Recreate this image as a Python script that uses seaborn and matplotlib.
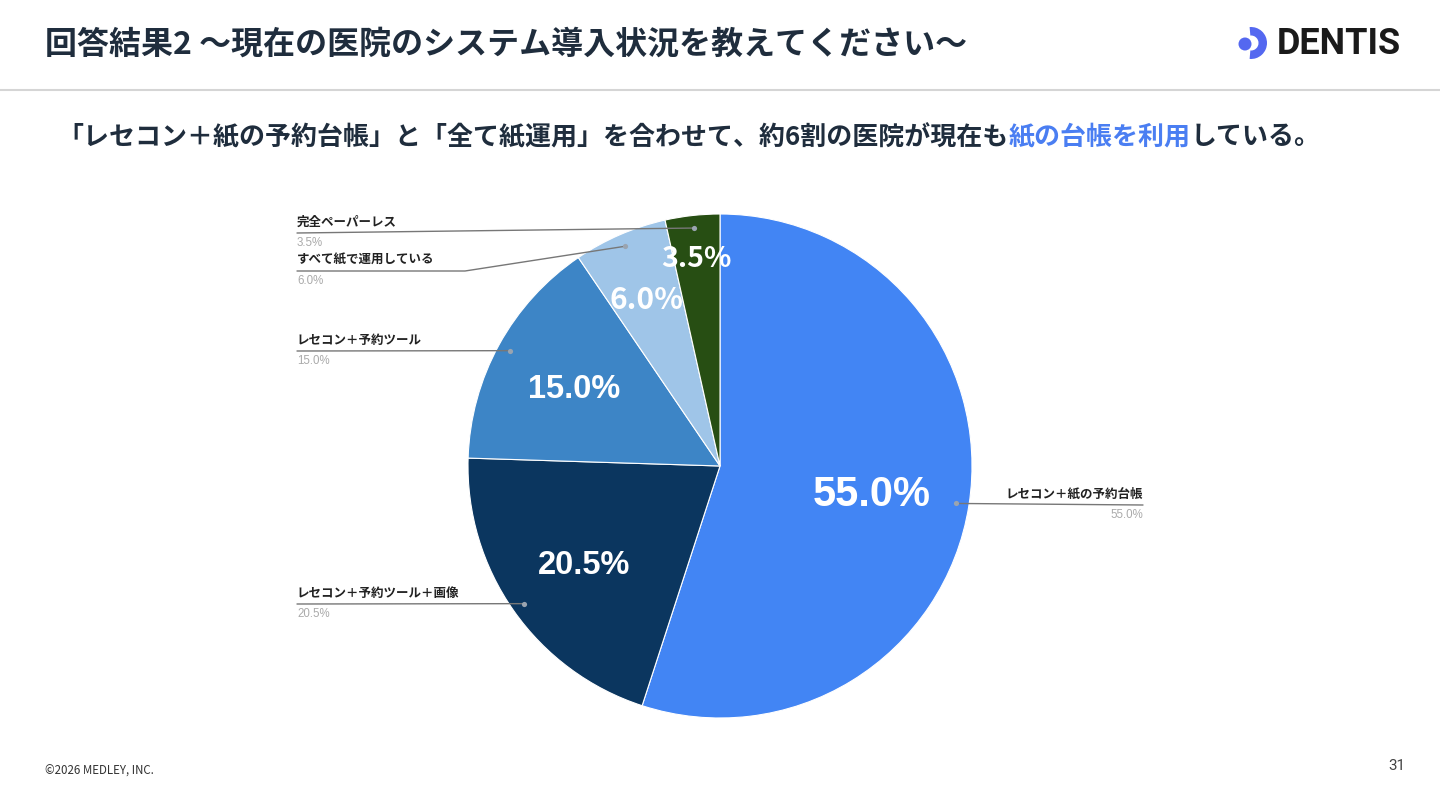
import matplotlib
matplotlib.use('Agg')
import matplotlib.pyplot as plt
import seaborn as sns
from matplotlib.patches import Wedge, Circle
import numpy as np

# --- data ---
categories = ['レセコン＋紙の予約台帳', 'レセコン＋予約ツール＋画像', 'レセコン＋予約ツール',
              'すべて紙で運用している', '完全ペーパーレス']
shares = [55.0, 20.5, 15.0, 6.0, 3.5]
slice_colors = ['#4285f4', '#0b365f', '#3d85c6', '#9fc5e8', '#274e13']

title = '回答結果2 〜現在の医院のシステム導入状況を教えてください〜'
sub_parts = ['「レセコン＋紙の予約台帳」と「全て紙運用」を合わせて、約6割の医院が現在も',
             '紙の台帳を利用', 'している。']

# layout (pixels, y measured from top)
W, H = 1440, 810
CX, CY, R = 720, 466, 252
inner_dist = [0.61, 0.66, 0.66, 0.73, 0.84]
inner_size = [30, 23.5, 23.5, 21.5, 20.5]
inner_font = ['Liberation Sans', 'Liberation Sans', 'Liberation Sans',
              'Noto Sans CJK JP', 'Noto Sans CJK JP']
label_y = [505, 604, 351, 271, 233]
label_x = [1143, 297, 297, 297, 297]
knee_x = [None, None, None, 465, None]

sns.set_theme(style='white')
plt.rcParams['font.family'] = ['Noto Sans CJK JP', 'DejaVu Sans']


def Y(y):
    return H - y


fig = plt.figure(figsize=(14.4, 8.1), dpi=100)
ax = fig.add_axes([0, 0, 1, 1])

wedges, _ = ax.pie(shares, colors=slice_colors, startangle=90, counterclock=False,
                   center=(CX, Y(CY)), radius=R,
                   wedgeprops=dict(edgecolor='white', linewidth=0.8))
ax.set_xlim(0, W)
ax.set_ylim(0, H)
ax.set_aspect('equal')
ax.axis('off')

for i, w in enumerate(wedges):
    mid = np.deg2rad((w.theta1 + w.theta2) / 2)
    # inner percentage
    tx = CX + inner_dist[i] * R * np.cos(mid)
    ty = Y(CY) + inner_dist[i] * R * np.sin(mid)
    ax.text(tx, ty, f'{shares[i]:.1f}%', color='white', fontsize=inner_size[i],
            fontweight='bold', family=[inner_font[i]], ha='center',
            va='center_baseline')
    # leader line
    dx = CX + 0.95 * R * np.cos(mid)
    dy = Y(CY) + 0.95 * R * np.sin(mid)
    ly = Y(label_y[i])
    if knee_x[i] is not None:
        xs = [dx, knee_x[i], label_x[i]]
        ys = [dy, ly, ly]
    else:
        xs = [dx, label_x[i]]
        ys = [dy, ly]
    ax.plot(xs, ys, color='#777777', lw=1.0, zorder=3)
    ax.scatter([dx], [dy], s=14, color='#9aa4b0', zorder=4, linewidths=0)
    ha = 'right' if label_x[i] > CX else 'left'
    ax.text(label_x[i], ly + 4, categories[i], fontsize=9, fontweight='bold',
            color='#222222', ha=ha, va='bottom')
    ax.text(label_x[i], ly - 4, f'{shares[i]:.1f}%', fontsize=8.3,
            family=['Liberation Sans'], color='#aaaaaa', ha=ha, va='top')

# header
ax.text(45, Y(45), title, fontsize=23, fontweight='bold', color='#1f2d3d',
        ha='left', va='center')
ax.plot([0, W], [Y(90), Y(90)], color='#d5d5d5', lw=1.5)

# subtitle in pieces with highlight
t = ax.text(57, Y(137), sub_parts[0], fontsize=18.7, fontweight='bold',
            color='#1f2d3d', ha='left', va='center')
t2 = ax.annotate(sub_parts[1], xy=(1, 0), xycoords=t, fontsize=18.7,
                 fontweight='bold', color='#4a7ef2', ha='left', va='bottom')
ax.annotate(sub_parts[2], xy=(1, 0), xycoords=t2, fontsize=18.7,
            fontweight='bold', color='#1f2d3d', ha='left', va='bottom')

# logo
ax.add_patch(Wedge((1251, Y(43)), 16, -95, 95, width=8.5, color='#5468f0', lw=0))
ax.add_patch(Circle((1245, Y(44)), 6.5, color='#5468f0', lw=0))
ax.text(1277, Y(44), 'DENTIS', fontsize=26, fontweight='bold', family=['Roboto'],
        color='#1a1a1a', ha='left', va='center')

# footer
ax.text(45, Y(771), '©2026 MEDLEY, INC.', fontsize=8.3, color='#333333',
        family=['Noto Sans CJK JP'], ha='left', va='center')
ax.text(1405, Y(766), '31', fontsize=11, color='#444444', family=['Roboto'],
        ha='right', va='center')

fig.savefig('out.png', dpi=100, facecolor='white')
